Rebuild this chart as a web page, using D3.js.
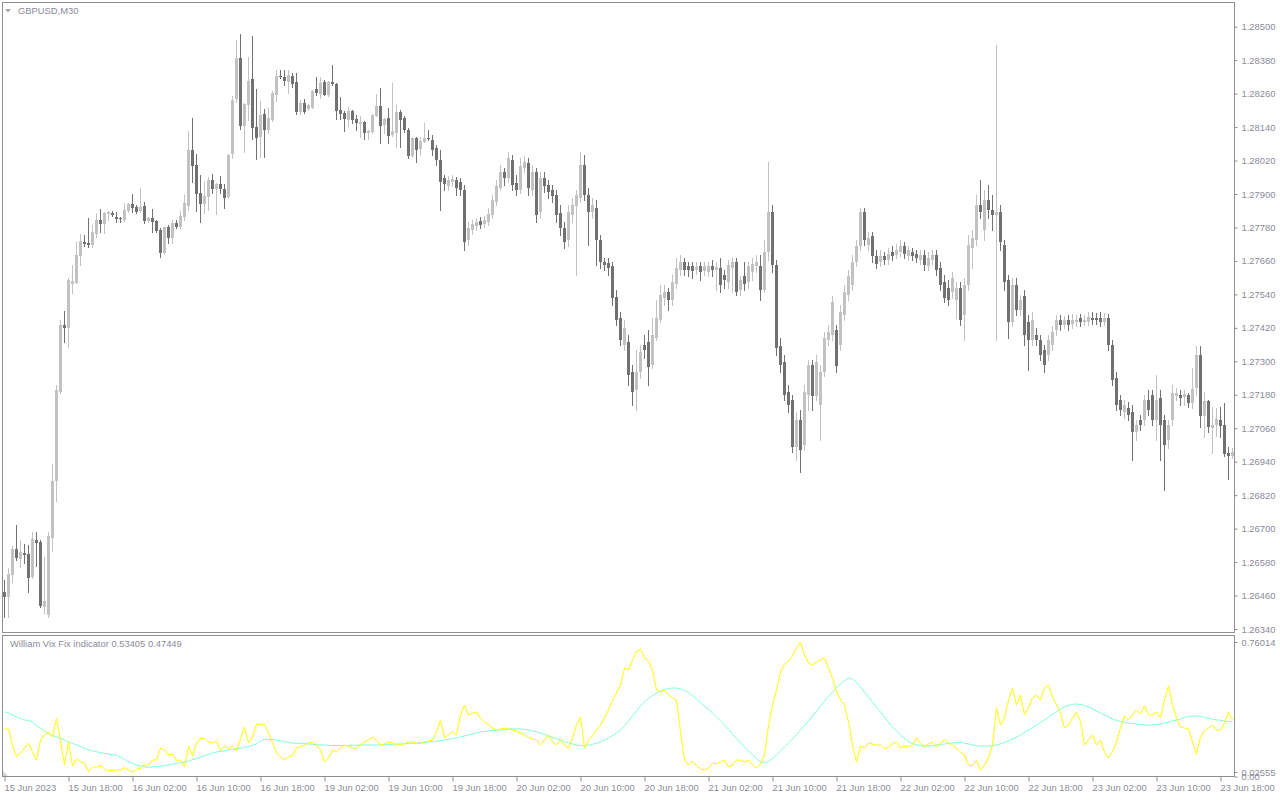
<!DOCTYPE html>
<html><head><meta charset="utf-8">
<script src="https://cdn.jsdelivr.net/npm/d3@7"></script>
<style>
html,body{margin:0;padding:0;background:#fff;}
svg{display:block;}
text{font-family:"Liberation Sans",Arial,sans-serif;font-size:9.4px;fill:#8a8a98;}
</style></head><body>
<svg id="chart" width="1280" height="800"></svg>
<script>
const symbolTitle = "GBPUSD,M30";
const indicatorTitle = "William Vix Fix indicator 0.53405 0.47449";

const open = [
1.26472,1.26453,1.26534,1.26627,1.26591,1.26612,1.26609,1.26528,1.26660,1.26651,
1.26420,1.26391,1.26668,1.26869,1.27191,1.27430,1.27421,1.27578,1.27582,1.27679,
1.27729,1.27726,1.27717,1.27757,1.27807,1.27792,1.27830,1.27833,1.27817,1.27813,
1.27807,1.27839,1.27864,1.27855,1.27839,1.27857,1.27804,1.27813,1.27804,1.27771,
1.27688,1.27781,1.27744,1.27797,1.27781,1.27819,1.27858,1.28058,1.28004,1.27903,
1.27863,1.27891,1.27950,1.27919,1.27936,1.27918,1.27891,1.28044,1.28241,1.28389,
1.28144,1.28220,1.28313,1.28140,1.28104,1.28187,1.28130,1.28166,1.28255,1.28324,
1.28320,1.28302,1.28324,1.28303,1.28195,1.28226,1.28206,1.28210,1.28277,1.28259,
1.28301,1.28255,1.28303,1.28294,1.28202,1.28190,1.28166,1.28199,1.28169,1.28152,
1.28157,1.28120,1.28124,1.28180,1.28216,1.28148,1.28172,1.28112,1.28118,1.28193,
1.28174,1.28130,1.28037,1.28102,1.28061,1.28088,1.28102,1.28094,1.28065,1.28022,
1.27958,1.27929,1.27943,1.27950,1.27943,1.27915,1.27735,1.27771,1.27786,1.27804,
1.27793,1.27800,1.27825,1.27872,1.27922,1.27979,1.27958,1.28022,1.27940,1.27915,
1.27994,1.28012,1.27915,1.27979,1.27836,1.27958,1.27933,1.27915,1.27897,1.27832,
1.27778,1.27735,1.27825,1.27857,1.27886,1.28004,1.27897,1.27836,1.27850,1.27735,
1.27657,1.27653,1.27642,1.27531,1.27456,1.27359,1.27370,1.27262,1.27198,1.27262,
1.27359,1.27370,1.27287,1.27384,1.27448,1.27527,1.27549,1.27520,1.27578,1.27628,
1.27657,1.27642,1.27642,1.27628,1.27642,1.27624,1.27621,1.27642,1.27628,1.27635,
1.27610,1.27585,1.27635,1.27657,1.27556,1.27606,1.27585,1.27621,1.27642,1.27642,
1.27556,1.27692,1.27836,1.27646,1.27355,1.27298,1.27190,1.27162,1.26993,1.27090,
1.27000,1.27180,1.27287,1.27176,1.27144,1.27262,1.27377,1.27395,1.27413,1.27359,
1.27466,1.27538,1.27574,1.27657,1.27714,1.27836,1.27717,1.27750,1.27678,1.27657,
1.27678,1.27664,1.27692,1.27682,1.27692,1.27714,1.27678,1.27692,1.27685,1.27664,
1.27682,1.27642,1.27664,1.27682,1.27635,1.27585,1.27563,1.27549,1.27520,1.27563,
1.27466,1.27574,1.27707,1.27735,1.27861,1.27771,1.27879,1.27843,1.27825,1.27836,
1.27717,1.27592,1.27441,1.27574,1.27484,1.27535,1.27441,1.27377,1.27395,1.27377,
1.27341,1.27323,1.27359,1.27413,1.27448,1.27430,1.27448,1.27434,1.27441,1.27456,
1.27441,1.27441,1.27456,1.27456,1.27456,1.27441,1.27456,1.27359,1.27240,1.27162,
1.27119,1.27133,1.27119,1.27047,1.27090,1.27090,1.27162,1.27180,1.27090,1.27169,
1.27090,1.27018,1.27090,1.27176,1.27180,1.27173,1.27180,1.27150,1.27204,1.27323,
1.27104,1.27158,1.27062,1.27072,1.27090,1.27072,1.26971,1.26962];

const high = [
1.26516,1.26558,1.26636,1.26713,1.26660,1.26644,1.26642,1.26687,1.26687,1.26660,
1.26600,1.26687,1.26932,1.27215,1.27448,1.27481,1.27599,1.27646,1.27729,1.27756,
1.27753,1.27813,1.27789,1.27831,1.27845,1.27837,1.27840,1.27840,1.27837,1.27819,
1.27867,1.27869,1.27900,1.27861,1.27921,1.27871,1.27819,1.27845,1.27807,1.27777,
1.27783,1.27789,1.27807,1.27807,1.27839,1.27897,1.28126,1.28172,1.28044,1.27968,
1.27947,1.27962,1.27972,1.27939,1.27965,1.27936,1.28044,1.28252,1.28453,1.28474,
1.28227,1.28393,1.28467,1.28277,1.28235,1.28205,1.28208,1.28268,1.28345,1.28343,
1.28343,1.28343,1.28333,1.28333,1.28237,1.28240,1.28223,1.28273,1.28319,1.28321,
1.28309,1.28307,1.28363,1.28298,1.28249,1.28199,1.28211,1.28203,1.28184,1.28178,
1.28162,1.28130,1.28187,1.28259,1.28279,1.28173,1.28208,1.28297,1.28220,1.28200,
1.28178,1.28136,1.28106,1.28106,1.28104,1.28156,1.28130,1.28112,1.28076,1.28058,
1.27968,1.27965,1.27968,1.27961,1.27958,1.27933,1.27800,1.27807,1.27814,1.27818,
1.27821,1.27850,1.27897,1.27950,1.28004,1.27994,1.28051,1.28040,1.27968,1.28029,
1.28037,1.28029,1.28004,1.27994,1.27979,1.27979,1.27950,1.27933,1.27915,1.27861,
1.27800,1.27861,1.27886,1.27915,1.28051,1.28040,1.27922,1.27886,1.27879,1.27753,
1.27671,1.27671,1.27657,1.27556,1.27477,1.27448,1.27395,1.27287,1.27341,1.27359,
1.27395,1.27413,1.27456,1.27520,1.27574,1.27574,1.27563,1.27610,1.27671,1.27682,
1.27671,1.27657,1.27657,1.27657,1.27657,1.27657,1.27657,1.27664,1.27657,1.27671,
1.27628,1.27664,1.27671,1.27671,1.27606,1.27657,1.27657,1.27671,1.27682,1.27682,
1.27735,1.28015,1.27861,1.27664,1.27384,1.27323,1.27215,1.27180,1.27119,1.27126,
1.27215,1.27305,1.27305,1.27323,1.27287,1.27405,1.27430,1.27535,1.27430,1.27502,
1.27574,1.27628,1.27682,1.27735,1.27850,1.27850,1.27764,1.27764,1.27700,1.27700,
1.27692,1.27707,1.27714,1.27721,1.27735,1.27728,1.27714,1.27707,1.27700,1.27700,
1.27700,1.27692,1.27700,1.27700,1.27657,1.27610,1.27592,1.27621,1.27585,1.27585,
1.27599,1.27753,1.27771,1.27897,1.27950,1.27915,1.27933,1.27897,1.28435,1.27861,
1.27735,1.27610,1.27599,1.27599,1.27538,1.27556,1.27466,1.27477,1.27420,1.27395,
1.27359,1.27395,1.27427,1.27466,1.27466,1.27463,1.27466,1.27470,1.27466,1.27470,
1.27466,1.27477,1.27477,1.27474,1.27477,1.27474,1.27470,1.27377,1.27262,1.27180,
1.27162,1.27154,1.27144,1.27090,1.27108,1.27180,1.27197,1.27197,1.27251,1.27197,
1.27108,1.27090,1.27215,1.27205,1.27197,1.27197,1.27187,1.27276,1.27355,1.27355,
1.27191,1.27162,1.27137,1.27133,1.27137,1.27151,1.26994,1.26990];

const low = [
1.26384,1.26384,1.26510,1.26588,1.26564,1.26576,1.26474,1.26522,1.26567,1.26419,
1.26397,1.26382,1.26618,1.26800,1.27188,1.27368,1.27352,1.27546,1.27580,1.27646,
1.27714,1.27711,1.27711,1.27747,1.27763,1.27759,1.27807,1.27821,1.27801,1.27801,
1.27804,1.27837,1.27837,1.27831,1.27837,1.27795,1.27801,1.27765,1.27765,1.27673,
1.27685,1.27724,1.27724,1.27777,1.27774,1.27805,1.27843,1.27944,1.27840,1.27801,
1.27833,1.27843,1.27903,1.27829,1.27903,1.27849,1.27887,1.28030,1.28229,1.28132,
1.28052,1.28166,1.28097,1.28027,1.28034,1.28034,1.28118,1.28162,1.28235,1.28316,
1.28291,1.28261,1.28283,1.28187,1.28187,1.28192,1.28202,1.28208,1.28255,1.28246,
1.28254,1.28252,1.28291,1.28168,1.28168,1.28126,1.28144,1.28156,1.28130,1.28106,
1.28097,1.28097,1.28120,1.28178,1.28084,1.28118,1.28084,1.28108,1.28070,1.28070,
1.28123,1.28028,1.28034,1.28013,1.28040,1.28086,1.28094,1.28040,1.28004,1.27843,
1.27915,1.27915,1.27929,1.27897,1.27897,1.27700,1.27717,1.27757,1.27771,1.27778,
1.27782,1.27789,1.27814,1.27861,1.27915,1.27933,1.27943,1.27915,1.27897,1.27904,
1.27979,1.27897,1.27897,1.27800,1.27814,1.27908,1.27886,1.27872,1.27800,1.27753,
1.27707,1.27714,1.27800,1.27610,1.27872,1.27879,1.27717,1.27814,1.27646,1.27635,
1.27628,1.27610,1.27502,1.27430,1.27359,1.27341,1.27215,1.27144,1.27126,1.27240,
1.27312,1.27215,1.27276,1.27377,1.27441,1.27502,1.27484,1.27502,1.27563,1.27610,
1.27610,1.27606,1.27599,1.27613,1.27592,1.27610,1.27606,1.27606,1.27556,1.27549,
1.27563,1.27563,1.27549,1.27538,1.27538,1.27556,1.27563,1.27592,1.27621,1.27520,
1.27549,1.27664,1.27621,1.27323,1.27262,1.27162,1.27119,1.26975,1.26946,1.26903,
1.26982,1.27126,1.27126,1.27162,1.27018,1.27248,1.27359,1.27377,1.27262,1.27341,
1.27448,1.27520,1.27556,1.27642,1.27700,1.27717,1.27700,1.27657,1.27635,1.27642,
1.27649,1.27649,1.27664,1.27671,1.27678,1.27671,1.27664,1.27664,1.27657,1.27649,
1.27628,1.27628,1.27649,1.27610,1.27556,1.27513,1.27502,1.27527,1.27456,1.27430,
1.27377,1.27556,1.27635,1.27717,1.27814,1.27735,1.27814,1.27771,1.27377,1.27700,
1.27556,1.27384,1.27427,1.27466,1.27466,1.27359,1.27269,1.27359,1.27359,1.27305,
1.27262,1.27305,1.27341,1.27395,1.27413,1.27420,1.27413,1.27420,1.27427,1.27427,
1.27430,1.27430,1.27434,1.27434,1.27427,1.27430,1.27341,1.27215,1.27126,1.27108,
1.27097,1.27090,1.26946,1.27018,1.27054,1.27072,1.27108,1.27072,1.27018,1.26946,
1.26839,1.26990,1.27072,1.27162,1.27144,1.27144,1.27137,1.27133,1.27180,1.27066,
1.27030,1.27048,1.26972,1.27033,1.27029,1.26961,1.26877,1.26954];

const close = [
1.26456,1.26538,1.26627,1.26596,1.26616,1.26606,1.26524,1.26663,1.26648,1.26424,
1.26441,1.26674,1.26871,1.27198,1.27430,1.27421,1.27592,1.27588,1.27682,1.27732,
1.27721,1.27717,1.27762,1.27807,1.27793,1.27833,1.27835,1.27826,1.27811,1.27811,
1.27843,1.27864,1.27851,1.27837,1.27855,1.27804,1.27813,1.27801,1.27769,1.27688,
1.27780,1.27744,1.27795,1.27783,1.27821,1.27867,1.28058,1.28002,1.27899,1.27863,
1.27893,1.27950,1.27919,1.27936,1.27919,1.27887,1.28040,1.28237,1.28389,1.28144,
1.28223,1.28306,1.28138,1.28102,1.28184,1.28130,1.28172,1.28264,1.28324,1.28320,
1.28306,1.28327,1.28295,1.28195,1.28226,1.28195,1.28220,1.28270,1.28264,1.28299,
1.28255,1.28303,1.28294,1.28199,1.28187,1.28168,1.28199,1.28166,1.28156,1.28160,
1.28120,1.28126,1.28184,1.28216,1.28144,1.28169,1.28108,1.28126,1.28195,1.28166,
1.28130,1.28037,1.28102,1.28058,1.28090,1.28102,1.28099,1.28058,1.28022,1.27943,
1.27936,1.27950,1.27954,1.27922,1.27915,1.27728,1.27778,1.27793,1.27800,1.27789,
1.27807,1.27829,1.27879,1.27929,1.27979,1.27958,1.28029,1.27933,1.27915,1.28001,
1.28015,1.27922,1.27979,1.27825,1.27958,1.27929,1.27908,1.27893,1.27825,1.27778,
1.27728,1.27836,1.27861,1.27897,1.28004,1.27897,1.27836,1.27861,1.27735,1.27657,
1.27646,1.27635,1.27527,1.27448,1.27377,1.27420,1.27251,1.27190,1.27262,1.27334,
1.27341,1.27280,1.27395,1.27456,1.27538,1.27549,1.27520,1.27585,1.27635,1.27657,
1.27628,1.27628,1.27624,1.27639,1.27621,1.27642,1.27642,1.27628,1.27639,1.27574,
1.27592,1.27646,1.27657,1.27549,1.27592,1.27578,1.27642,1.27649,1.27657,1.27556,
1.27692,1.27836,1.27646,1.27348,1.27287,1.27180,1.27144,1.26993,1.27090,1.26982,
1.27190,1.27287,1.27176,1.27298,1.27262,1.27384,1.27405,1.27513,1.27284,1.27477,
1.27549,1.27606,1.27657,1.27714,1.27836,1.27735,1.27743,1.27678,1.27649,1.27678,
1.27664,1.27685,1.27678,1.27700,1.27714,1.27685,1.27700,1.27678,1.27671,1.27682,
1.27646,1.27671,1.27682,1.27628,1.27574,1.27527,1.27520,1.27599,1.27563,1.27448,
1.27574,1.27717,1.27743,1.27861,1.27836,1.27879,1.27843,1.27825,1.27836,1.27728,
1.27585,1.27441,1.27574,1.27484,1.27520,1.27395,1.27377,1.27448,1.27377,1.27323,
1.27287,1.27377,1.27405,1.27448,1.27430,1.27448,1.27430,1.27448,1.27448,1.27441,
1.27448,1.27459,1.27448,1.27448,1.27441,1.27456,1.27359,1.27233,1.27144,1.27126,
1.27144,1.27108,1.27047,1.27072,1.27072,1.27162,1.27126,1.27090,1.27162,1.27072,
1.27000,1.27072,1.27187,1.27187,1.27169,1.27183,1.27150,1.27201,1.27323,1.27104,
1.27158,1.27066,1.27072,1.27093,1.27068,1.26968,1.26962,1.26974];

const wvf = [
.269,.269,.178,.112,.131,.161,.189,.139,.093,.206,
.235,.252,.223,.329,.201,.065,.195,.060,.099,.084,
.074,.028,.056,.052,.062,.043,.033,.035,.037,.037,
.051,.037,.02555,.040,.047,.065,.065,.093,.093,.161,
.150,.122,.127,.091,.093,.056,.172,.116,.189,.215,
.216,.195,.188,.201,.147,.172,.156,.172,.144,.212,
.280,.189,.223,.295,.295,.295,.246,.195,.133,.110,
.093,.110,.119,.161,.169,.178,.189,.195,.178,.150,
.082,.105,.150,.139,.161,.178,.172,.161,.161,.178,
.195,.206,.223,.206,.178,.184,.195,.189,.178,.178,
.184,.195,.195,.189,.184,.195,.201,.206,.252,.319,
.218,.235,.252,.235,.348,.404,.348,.359,.365,.331,
.308,.291,.274,.263,.269,.274,.269,.263,.257,.246,
.235,.223,.212,.206,.178,.206,.235,.195,.178,.206,
.178,.161,.218,.291,.336,.161,.206,.229,.263,.291,
.331,.376,.432,.472,.517,.613,.602,.658,.704,.721,
.670,.653,.602,.489,.478,.489,.461,.444,.432,.252,
.093,.065,.088,.060,.043,.037,.048,.076,.071,.082,
.093,.054,.065,.093,.093,.082,.093,.065,.048,.071,
.122,.291,.404,.489,.591,.636,.653,.681,.726,.76014,
.687,.641,.630,.647,.658,.670,.613,.557,.478,.432,
.404,.308,.178,.082,.172,.161,.189,.184,.178,.178,
.156,.167,.184,.195,.161,.172,.167,.178,.218,.189,
.167,.184,.195,.167,.189,.206,.189,.178,.161,.139,
.122,.065,.060,.093,.037,.065,.105,.178,.387,.291,
.331,.432,.500,.404,.461,.348,.387,.444,.461,.432,
.500,.517,.449,.404,.359,.274,.291,.331,.365,.308,
.178,.206,.235,.178,.206,.139,.105,.139,.195,.274,
.342,.319,.348,.376,.353,.399,.348,.348,.365,.331,
.432,.512,.404,.331,.280,.274,.269,.195,.127,.223,
.257,.274,.291,.263,.263,.302,.365,.319];

const wvfMa = [
.366,.359,.348,.336,.328,.319,.317,.308,.286,.273,
.257,.243,.232,.224,.217,.206,.195,.187,.178,.170,
.161,.150,.145,.140,.135,.131,.127,.124,.118,.110,
.096,.082,.074,.065,.061,.056,.052,.054,.056,.058,
.062,.065,.070,.074,.079,.082,.087,.095,.102,.111,
.118,.125,.133,.139,.142,.145,.150,.153,.156,.159,
.165,.170,.176,.184,.201,.210,.210,.210,.206,.202,
.197,.193,.189,.188,.188,.187,.184,.182,.180,.178,
.178,.176,.175,.175,.175,.175,.176,.176,.177,.178,
.178,.178,.178,.178,.178,.179,.180,.182,.183,.184,
.185,.187,.188,.189,.191,.192,.195,.197,.200,.202,
.205,.210,.214,.219,.223,.229,.235,.240,.246,.252,
.254,.257,.260,.262,.263,.265,.267,.269,.270,.269,
.266,.263,.257,.252,.246,.238,.230,.222,.214,.206,
.198,.191,.184,.178,.176,.175,.177,.182,.188,.195,
.206,.218,.232,.246,.263,.286,.314,.342,.370,.399,
.421,.441,.458,.472,.483,.492,.497,.500,.500,.495,
.486,.475,.458,.438,.418,.399,.379,.359,.336,.314,
.291,.266,.240,.215,.189,.167,.144,.122,.102,.082,
.076,.085,.102,.122,.144,.167,.189,.212,.237,.263,
.288,.314,.342,.370,.399,.427,.452,.478,.500,.523,
.543,.557,.551,.534,.506,.478,.449,.421,.393,.365,
.336,.308,.280,.257,.235,.215,.198,.187,.178,.175,
.172,.172,.175,.178,.181,.184,.187,.189,.192,.192,
.189,.184,.178,.175,.172,.172,.172,.175,.178,.184,
.192,.201,.212,.223,.235,.249,.263,.277,.291,.305,
.319,.336,.353,.367,.382,.393,.401,.407,.410,.407,
.401,.393,.382,.370,.359,.348,.336,.325,.317,.311,
.305,.302,.300,.297,.294,.291,.291,.291,.294,.297,
.302,.308,.314,.319,.325,.334,.340,.342,.342,.339,
.334,.329,.325,.321,.317,.314,.311,.310];

const priceTicks = [1.28500,1.28380,1.28260,1.28140,1.28020,1.27900,1.27780,1.27660,1.27540,
  1.27420,1.27300,1.27180,1.27060,1.26940,1.26820,1.26700,1.26580,1.26460,1.26340];
const dateLabels = ["15 Jun 2023","15 Jun 18:00","16 Jun 02:00","16 Jun 10:00","16 Jun 18:00",
  "19 Jun 02:00","19 Jun 10:00","19 Jun 18:00","20 Jun 02:00","20 Jun 10:00","20 Jun 18:00",
  "21 Jun 02:00","21 Jun 10:00","21 Jun 18:00","22 Jun 02:00","22 Jun 10:00","22 Jun 18:00",
  "23 Jun 02:00","23 Jun 10:00","23 Jun 18:00"];
const dateLabelBars = [0,16,32,48,64,80,96,112,128,144,160,176,192,208,224,240,256,272,288,304];
const wvfTicks = [0.76014, 0.02555, 0.00];
const wvfTickLabels = ["0.76014","0.02555","0.00"];

const n = Math.min(open.length, high.length, low.length, close.length);
const svg = d3.select("#chart");
const frameColor = "#8f8f8f", bullColor = "#c2c2c2", bearColor = "#717171";
const main = {left:2.5, right:1234.5, top:2.5, bottom:632.5};
const ind = {left:2.5, right:1234.5, top:635.5, bottom:776.5};

const x = d3.scaleLinear().domain([0, 307]).range([4.5, 1232.5]);
const yP = d3.scaleLinear().domain([1.2634, 1.2850]).range([629, 26.7]);
const yI = d3.scaleLinear().domain([0.02555, 0.76014]).range([772, 642]);

const defs = svg.append("defs");
defs.append("clipPath").attr("id","clipMain").append("rect")
  .attr("x",main.left+0.5).attr("y",main.top+0.5).attr("width",main.right-main.left-1).attr("height",main.bottom-main.top-1);
defs.append("clipPath").attr("id","clipInd").append("rect")
  .attr("x",ind.left+0.5).attr("y",ind.top+0.5).attr("width",ind.right-ind.left-1).attr("height",ind.bottom-ind.top-1);

// candles
const bars = d3.range(n).map(i => ({i, o:open[i], h:high[i], l:low[i], c:close[i]}));
const gc = svg.append("g").attr("clip-path","url(#clipMain)");
gc.selectAll("rect.wick").data(bars).join("rect").attr("class","wick")
  .attr("x", d => x(d.i) - 0.5).attr("width", 1)
  .attr("y", d => Math.round(yP(d.h)))
  .attr("height", d => Math.max(1, Math.round(yP(d.l)) - Math.round(yP(d.h)) + 1))
  .attr("fill", d => d.c >= d.o ? bullColor : bearColor);
gc.selectAll("rect.body").data(bars).join("rect").attr("class","body")
  .attr("x", d => x(d.i) - 1.5).attr("width", 3)
  .attr("y", d => Math.round(yP(Math.max(d.o, d.c))))
  .attr("height", d => Math.max(1, Math.round(yP(Math.min(d.o, d.c))) - Math.round(yP(Math.max(d.o, d.c)))))
  .attr("fill", d => d.c >= d.o ? bullColor : bearColor);

// indicator lines
const gi = svg.append("g").attr("clip-path","url(#clipInd)");
const line = d3.line().x((d,i) => x(i)).y(d => yI(d));
gi.append("path").datum(wvfMa).attr("d", line).attr("fill","none").attr("stroke","#7fffd4").attr("stroke-width",1);
gi.append("path").datum(wvf).attr("d", line).attr("fill","none").attr("stroke","#ffff00").attr("stroke-width",1);

// frames
[main, ind].forEach(p => {
  svg.append("rect").attr("x",p.left).attr("y",p.top).attr("width",p.right-p.left).attr("height",p.bottom-p.top)
    .attr("fill","none").attr("stroke",frameColor).attr("stroke-width",1);
});

// price axis
const ay = svg.append("g").attr("transform",`translate(${main.right},0)`)
  .call(d3.axisRight(yP).tickValues(priceTicks).tickSize(3).tickPadding(4).tickFormat(d => d.toFixed(5)))
  .attr("color", frameColor);
ay.select(".domain").remove();

// indicator axis
const ai = svg.append("g").attr("transform",`translate(${ind.right},0)`)
  .call(d3.axisRight(yI).tickValues(wvfTicks).tickSize(3).tickPadding(4).tickFormat((d,i) => wvfTickLabels[i]))
  .attr("color", frameColor);
ai.select(".domain").remove();

// time axis
const ax = svg.append("g").attr("transform",`translate(0,${ind.bottom})`)
  .call(d3.axisBottom(x).tickValues(dateLabelBars).tickSize(5).tickFormat((d,i) => dateLabels[i]))
  .attr("color", frameColor);
ax.select(".domain").remove();
ax.selectAll("text").attr("text-anchor","start").attr("x",-0.5).attr("y",8);

// titles
svg.append("path").attr("d","M5,9 L11,9 L8,12.5 Z").attr("fill","#a6a6a6");
svg.append("text").attr("x",18).attr("y",14).text(symbolTitle);
svg.append("text").attr("x",10).attr("y",647).text(indicatorTitle);
svg.append("path").attr("d","M3,771 L3,776 L8,776 Z").attr("fill","#d4d4d4");
</script>
</body></html>
